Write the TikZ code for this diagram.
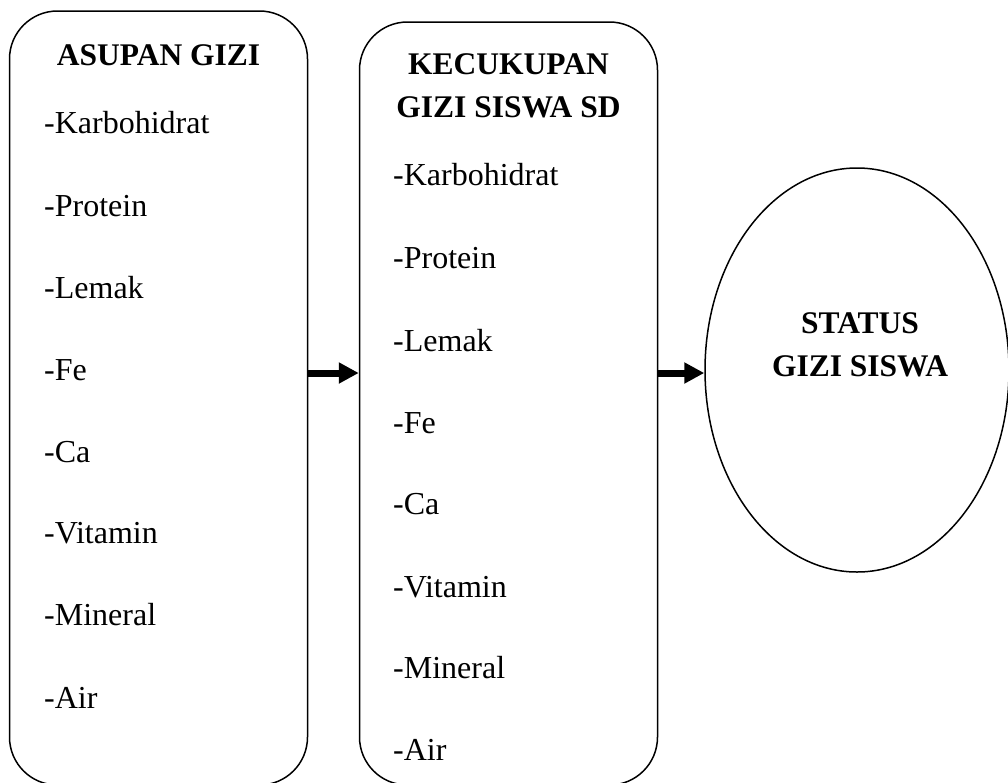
\documentclass[tikz,border=0pt]{standalone}
\usepackage{fontspec}
\setmainfont{Liberation Serif}
\usetikzlibrary{shapes.geometric,arrows.meta}
\begin{document}
\begin{tikzpicture}[x=1pt,y=-1pt,
  boxstyle/.style={draw,line width=1.5pt,rounded corners=48pt,inner sep=0pt},
  item/.style={anchor=base west,inner sep=0pt,font=\fontsize{32}{38}\selectfont},
  ttl/.style={anchor=base,inner sep=0pt,align=center,font=\fontsize{31.5}{42.5}\selectfont\bfseries},
  arr/.style={line width=7pt,-{Triangle[length=20pt,width=20pt]}}]
\useasboundingbox (0,0) rectangle (1008,782);
% boxes
\node[boxstyle,minimum width=298pt,minimum height=774pt] (b1) at (158.5,398) {};
\node[boxstyle,minimum width=298pt,minimum height=763pt] (b2) at (508.5,403.5) {};
\node[draw,ellipse,line width=1.5pt,inner sep=0pt,minimum width=304pt,minimum height=404pt] (e) at (857,370) {};
% titles
\node[ttl] (t1) at (158.5,65) {ASUPAN GIZI};
\node[ttl] (t2) at (508.5,117) {KECUKUPAN\\GIZI SISWA SD};
\node[ttl] (t3) at (860,376) {STATUS\\GIZI SISWA};
% left items
\node[item] (l1) at (44,133) {-Karbohidrat};
\node[item] (l2) at (44,216) {-Protein};
\node[item] (l3) at (44,298) {-Lemak};
\node[item] (l4) at (44,380) {-Fe};
\node[item] (l5) at (44,462) {-Ca};
\node[item] (l6) at (44,543) {-Vitamin};
\node[item] (l7) at (44,625) {-Mineral};
\node[item] (l8) at (44,708) {-Air};
% middle items
\node[item] (m1) at (393,185) {-Karbohidrat};
\node[item] (m2) at (393,268) {-Protein};
\node[item] (m3) at (393,351) {-Lemak};
\node[item] (m4) at (393,433) {-Fe};
\node[item] (m5) at (393,514) {-Ca};
\node[item] (m6) at (393,597) {-Vitamin};
\node[item] (m7) at (393,678) {-Mineral};
\node[item] (m8) at (393,760) {-Air};
% arrows
\coordinate (ay) at (0,373);
\draw[arr] (b1.east |- ay) -- (b2.west |- ay);
\draw[arr] (b2.east |- ay) -- (e.west |- ay);
\end{tikzpicture}
\end{document}
